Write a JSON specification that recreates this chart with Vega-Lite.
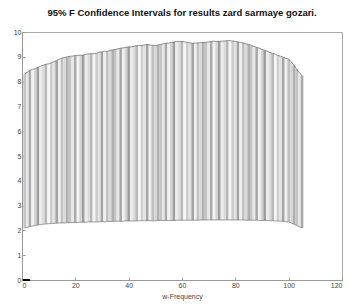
{
  "$schema": "https://vega.github.io/schema/vega-lite/v6.json",
  "width": 320,
  "height": 248,
  "autosize": {"type": "none"},
  "padding": {"left": 22, "top": 32, "right": 7, "bottom": 27},
  "background": "white",
  "title": {"text": "95% F Confidence Intervals for results zard sarmaye gozari.", "fontSize": 9.5, "fontWeight": "bold", "font": "Liberation Sans", "color": "#111", "offset": 11, "anchor": "middle"},
  "config": {
    "view": {"stroke": "#aaa", "strokeWidth": 1},
    "axis": {"labelFontSize": 7, "labelFont": "Liberation Sans", "labelColor": "#444", "domainColor": "#999", "tickColor": "#999", "grid": false, "titleFontSize": 7, "titleFont": "Liberation Sans", "titleFontWeight": "normal", "titleColor": "#444", "labelOverlap": false, "tickSize": -3, "labelPadding": 4}
  },
  "datasets": {
    "ci": [
      {"x":1,"lo":2.10,"hi":8.30},{"x":2,"lo":2.12,"hi":8.38},{"x":3,"lo":2.15,"hi":8.45},{"x":4,"lo":2.18,"hi":8.50},{"x":5,"lo":2.20,"hi":8.52},
      {"x":6,"lo":2.22,"hi":8.58},{"x":7,"lo":2.24,"hi":8.62},{"x":8,"lo":2.25,"hi":8.66},{"x":9,"lo":2.26,"hi":8.70},{"x":10,"lo":2.27,"hi":8.72},
      {"x":11,"lo":2.28,"hi":8.76},{"x":12,"lo":2.28,"hi":8.80},{"x":13,"lo":2.29,"hi":8.85},{"x":14,"lo":2.30,"hi":8.90},{"x":15,"lo":2.30,"hi":8.95},
      {"x":16,"lo":2.30,"hi":8.97},{"x":17,"lo":2.31,"hi":9.00},{"x":18,"lo":2.31,"hi":9.02},{"x":19,"lo":2.32,"hi":9.03},{"x":20,"lo":2.32,"hi":9.05},
      {"x":21,"lo":2.32,"hi":9.06},{"x":22,"lo":2.33,"hi":9.06},{"x":23,"lo":2.33,"hi":9.07},{"x":24,"lo":2.33,"hi":9.10},{"x":25,"lo":2.34,"hi":9.12},
      {"x":26,"lo":2.34,"hi":9.13},{"x":27,"lo":2.34,"hi":9.12},{"x":28,"lo":2.34,"hi":9.15},{"x":29,"lo":2.35,"hi":9.18},{"x":30,"lo":2.35,"hi":9.20},
      {"x":31,"lo":2.35,"hi":9.22},{"x":32,"lo":2.36,"hi":9.22},{"x":33,"lo":2.36,"hi":9.25},{"x":34,"lo":2.36,"hi":9.28},{"x":35,"lo":2.37,"hi":9.30},
      {"x":36,"lo":2.37,"hi":9.32},{"x":37,"lo":2.37,"hi":9.35},{"x":38,"lo":2.37,"hi":9.36},{"x":39,"lo":2.38,"hi":9.38},{"x":40,"lo":2.38,"hi":9.40},
      {"x":41,"lo":2.38,"hi":9.40},{"x":42,"lo":2.38,"hi":9.42},{"x":43,"lo":2.38,"hi":9.45},{"x":44,"lo":2.39,"hi":9.46},{"x":45,"lo":2.39,"hi":9.45},
      {"x":46,"lo":2.39,"hi":9.48},{"x":47,"lo":2.39,"hi":9.50},{"x":48,"lo":2.39,"hi":9.48},{"x":49,"lo":2.39,"hi":9.46},{"x":50,"lo":2.39,"hi":9.45},
      {"x":51,"lo":2.40,"hi":9.47},{"x":52,"lo":2.40,"hi":9.50},{"x":53,"lo":2.40,"hi":9.52},{"x":54,"lo":2.40,"hi":9.55},{"x":55,"lo":2.40,"hi":9.55},
      {"x":56,"lo":2.40,"hi":9.58},{"x":57,"lo":2.40,"hi":9.60},{"x":58,"lo":2.41,"hi":9.62},{"x":59,"lo":2.41,"hi":9.62},{"x":60,"lo":2.41,"hi":9.62},
      {"x":61,"lo":2.41,"hi":9.60},{"x":62,"lo":2.41,"hi":9.58},{"x":63,"lo":2.41,"hi":9.56},{"x":64,"lo":2.41,"hi":9.55},{"x":65,"lo":2.41,"hi":9.55},
      {"x":66,"lo":2.41,"hi":9.56},{"x":67,"lo":2.42,"hi":9.57},{"x":68,"lo":2.42,"hi":9.58},{"x":69,"lo":2.42,"hi":9.58},{"x":70,"lo":2.42,"hi":9.60},
      {"x":71,"lo":2.42,"hi":9.62},{"x":72,"lo":2.42,"hi":9.63},{"x":73,"lo":2.42,"hi":9.62},{"x":74,"lo":2.42,"hi":9.62},{"x":75,"lo":2.42,"hi":9.63},
      {"x":76,"lo":2.42,"hi":9.64},{"x":77,"lo":2.42,"hi":9.65},{"x":78,"lo":2.42,"hi":9.65},{"x":79,"lo":2.42,"hi":9.64},{"x":80,"lo":2.42,"hi":9.62},
      {"x":81,"lo":2.42,"hi":9.60},{"x":82,"lo":2.42,"hi":9.58},{"x":83,"lo":2.42,"hi":9.56},{"x":84,"lo":2.41,"hi":9.52},{"x":85,"lo":2.41,"hi":9.50},
      {"x":86,"lo":2.41,"hi":9.46},{"x":87,"lo":2.41,"hi":9.42},{"x":88,"lo":2.41,"hi":9.38},{"x":89,"lo":2.40,"hi":9.35},{"x":90,"lo":2.40,"hi":9.30},
      {"x":91,"lo":2.40,"hi":9.26},{"x":92,"lo":2.40,"hi":9.22},{"x":93,"lo":2.39,"hi":9.18},{"x":94,"lo":2.39,"hi":9.14},{"x":95,"lo":2.38,"hi":9.10},
      {"x":96,"lo":2.38,"hi":9.06},{"x":97,"lo":2.37,"hi":9.02},{"x":98,"lo":2.36,"hi":8.98},{"x":99,"lo":2.35,"hi":8.94},{"x":100,"lo":2.34,"hi":8.90},
      {"x":101,"lo":2.30,"hi":8.80},{"x":102,"lo":2.25,"hi":8.65},{"x":103,"lo":2.20,"hi":8.50},{"x":104,"lo":2.15,"hi":8.35},{"x":105,"lo":2.10,"hi":8.25}
    ],
    "origin": [{"x": 0.3, "x2": 3, "y": 0}]
  },
  "layer": [
    {
      "data": {"name": "ci"},
      "mark": {"type": "rule", "strokeWidth": 2.7},
      "encoding": {
        "x": {"field": "x", "type": "quantitative", "scale": {"domain": [0, 120], "nice": false}, "axis": {"values": [0, 20, 40, 60, 80, 100, 120], "title": "w-Frequency", "titlePadding": 4}},
        "y": {"field": "lo", "type": "quantitative", "scale": {"domain": [0, 10], "nice": false}, "axis": {"values": [0,1,2,3,4,5,6,7,8,9,10], "title": null}},
        "y2": {"field": "hi"},
        "color": {"field": "x", "type": "nominal", "legend": null, "scale": {"range": ["#c4c4c4","#e8e8e8","#aaaaaa","#f2f2f2","#d4d4d4","#9e9e9e","#ececec","#dcdcdc","#b8b8b8","#f6f6f6","#cdcdcd","#e2e2e2","#a4a4a4","#efefef","#c0c0c0","#dadada","#b0b0b0"]}}
      }
    },
    {
      "data": {"name": "ci"},
      "mark": {"type": "line", "color": "#666", "strokeWidth": 0.7},
      "encoding": {
        "x": {"field": "x", "type": "quantitative", "axis": {"values": [0, 20, 40, 60, 80, 100, 120], "title": "w-Frequency", "titlePadding": 4}},
        "y": {"field": "hi", "type": "quantitative", "axis": {"values": [0,1,2,3,4,5,6,7,8,9,10], "title": null}}
      }
    },
    {
      "data": {"name": "ci"},
      "mark": {"type": "line", "color": "#777", "strokeWidth": 0.7},
      "encoding": {
        "x": {"field": "x", "type": "quantitative", "axis": {"values": [0, 20, 40, 60, 80, 100, 120], "title": "w-Frequency", "titlePadding": 4}},
        "y": {"field": "lo", "type": "quantitative", "axis": {"values": [0,1,2,3,4,5,6,7,8,9,10], "title": null}}
      }
    },
    {
      "data": {"name": "origin"},
      "mark": {"type": "rule", "color": "#000", "strokeWidth": 2},
      "encoding": {
        "x": {"field": "x", "type": "quantitative", "axis": {"values": [0, 20, 40, 60, 80, 100, 120], "title": "w-Frequency", "titlePadding": 4}},
        "x2": {"field": "x2"},
        "y": {"field": "y", "type": "quantitative", "axis": {"values": [0,1,2,3,4,5,6,7,8,9,10], "title": null}}
      }
    }
  ]
}
